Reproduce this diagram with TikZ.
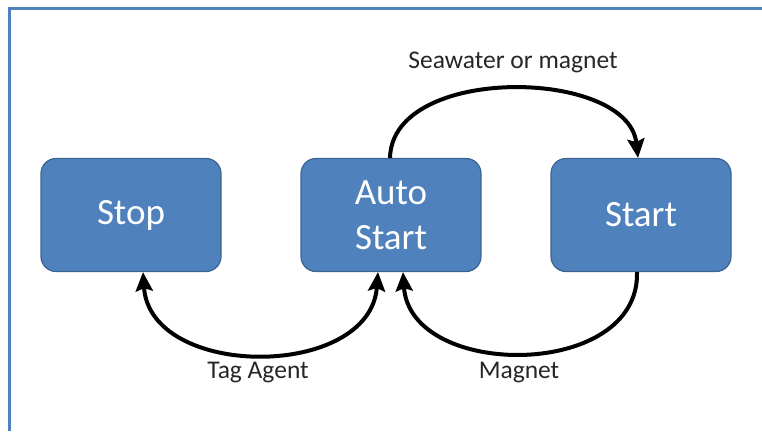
\documentclass[tikz,border=0pt]{standalone}
\usepackage{fontspec}
\setmainfont{Carlito}
\usetikzlibrary{arrows.meta,calc}
\definecolor{boxfill}{HTML}{4F81BD}
\definecolor{boxline}{HTML}{3A6492}
\definecolor{frameblue}{HTML}{4F81BD}
\tikzset{
  state/.style={draw=boxline, line width=1.2pt, fill=boxfill, rounded corners=15pt,
    minimum width=180pt, minimum height=113pt, text=white, align=center,
    font=\fontsize{37}{45}\selectfont, inner sep=0pt},
  flow/.style={line width=4pt, black},
  tip/.style={-{Stealth[length=19pt,width=17pt,inset=3pt]}},
  lbl/.style={font=\fontsize{25.5}{30}\selectfont, text=black!85}
}
\begin{document}
\begin{tikzpicture}[x=1pt,y=-1pt]
  \useasboundingbox (0,0) rectangle (762,431);
  % page frame
  \draw[frameblue, line width=3pt] (9,431) -- (9,8) -- (762,8);

  % states
  \node[state] (stop)  at (131,215) {Stop};
  \node[state] (auto)  at (391,215) {Auto\\Start};
  \node[state] (start) at (641,215) {Start};

  % anchor points on the box edges
  \coordinate (autoTop) at ($(auto.north)+(-1,0)$);
  \coordinate (startTop) at ($(start.north)+(-3,0)$);
  \coordinate (autoBL) at ($(auto.south)+(-13,0)$);
  \coordinate (autoBR) at ($(auto.south)+(12,0)$);
  \coordinate (stopB) at ($(stop.south)+(12,0)$);
  \coordinate (startB) at ($(start.south)+(-4,0)$);

  % transitions
  \draw[flow, tip] (autoTop) .. controls (392,64) and (628,68) .. (startTop);
  \draw[flow, {Stealth[length=19pt,width=17pt,inset=3pt]}-{Stealth[length=19pt,width=17pt,inset=3pt]}]
    (stopB) .. controls (150,380) and (370,380) .. (autoBL);
  \draw[flow, tip] (startB) .. controls (640,380) and (410,380) .. (autoBR);

  % labels
  \node[lbl] (lsea) at (513,62) {Seawater or magnet};
  \node[lbl] (ltag) at (258,373) {Tag Agent};
  \node[lbl] (lmag) at (519,373) {Magnet};
\end{tikzpicture}
\end{document}
